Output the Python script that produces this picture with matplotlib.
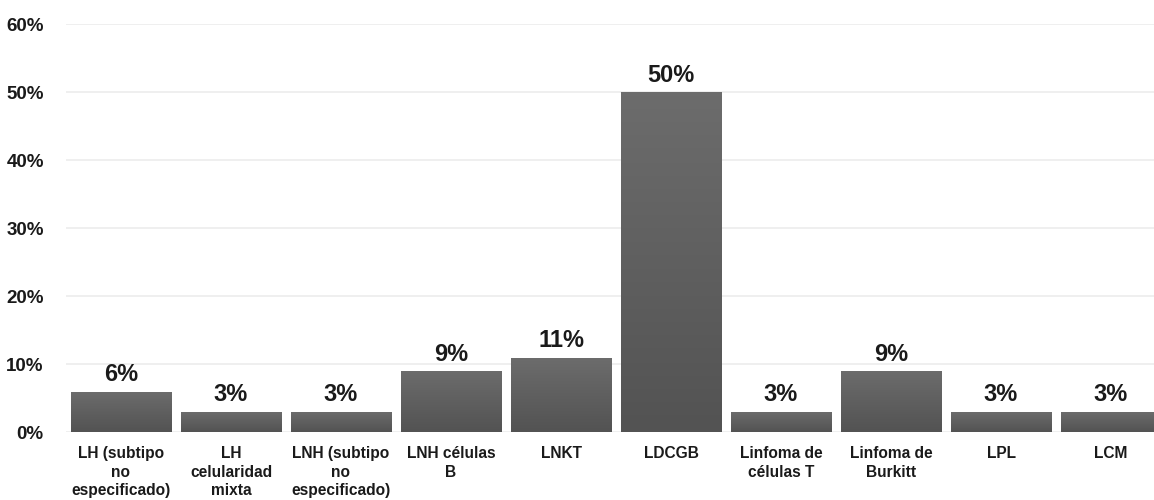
import matplotlib
matplotlib.use("Agg")
import matplotlib.pyplot as plt
import numpy as np

categories = ["LH (subtipo\nno\nespecificado)", "LH\ncelularidad\nmixta",
              "LNH (subtipo\nno\nespecificado)", "LNH células\nB", "LNKT", "LDCGB",
              "Linfoma de\ncélulas T", "Linfoma de\nBurkitt", "LPL", "LCM"]
values = [6, 3, 3, 9, 11, 50, 3, 9, 3, 3]
value_labels = ["6%", "3%", "3%", "9%", "11%", "50%", "3%", "9%", "3%", "3%"]
yticks = [0, 10, 20, 30, 40, 50, 60]
ytick_labels = ["0%", "10%", "20%", "30%", "40%", "50%", "60%"]

plt.rcParams['font.family'] = ['Liberation Sans', 'DejaVu Sans']

W, H = 1154, 500
fig = plt.figure(figsize=(W / 100, H / 100), dpi=100)
ax = fig.add_axes([66 / W, (H - 432.3) / H, 1100 / W, 408 / H])

x = np.arange(len(categories))
bars = ax.bar(x, values, width=0.91, color="#5f5f5f", edgecolor="#8c8c8c", linewidth=0.7, zorder=3)

# vertical gradient inside each bar (lighter top, darker bottom)
grad = np.linspace(0, 1, 64).reshape(-1, 1)
cmap = matplotlib.colors.LinearSegmentedColormap.from_list("g", ["#535353", "#6c6c6c"])
for b in bars:
    x0, y0 = b.get_x(), b.get_y()
    w, h = b.get_width(), b.get_height()
    im = ax.imshow(grad, cmap=cmap, extent=(x0, x0 + w, y0, y0 + h), origin="lower",
                   aspect="auto", zorder=3.5, interpolation="bilinear")
    im.set_clip_path(b)

for xi, v, lab in zip(x, values, value_labels):
    ax.annotate(lab, (xi, v), xytext=(0, 4), textcoords="offset points",
                ha="center", va="bottom", fontsize=17, fontweight="bold", color="#1a1a1a", zorder=5)

ax.set_xlim(-0.5, len(categories) - 0.5)
ax.set_ylim(0, 60)
ax.set_yticks(yticks)
ax.set_yticklabels(ytick_labels, fontsize=13.5, fontweight="bold", color="#1a1a1a")
ax.set_xticks(x)
ax.set_xticklabels(categories, fontsize=11.2, fontweight="bold", color="#1a1a1a", linespacing=1.28)
ax.tick_params(axis="y", length=0, pad=16)
ax.tick_params(axis="x", length=0, pad=10)
ax.grid(axis="y", color="#ececec", linewidth=1.2, zorder=0)
for s in ax.spines.values():
    s.set_visible(False)

fig.savefig("out.png", dpi=100)
